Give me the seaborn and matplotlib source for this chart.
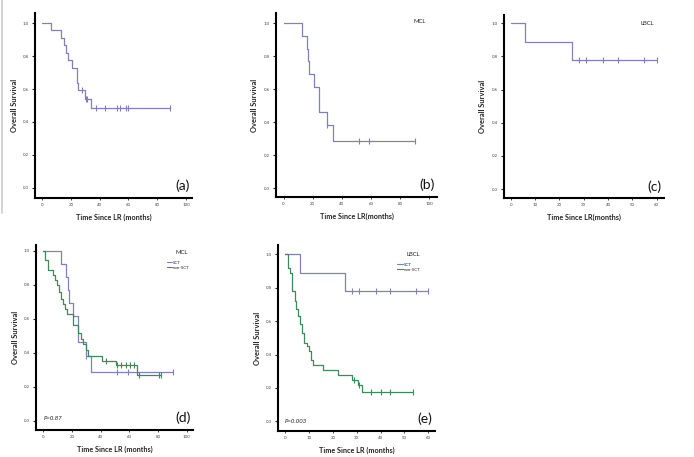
import numpy as np
import matplotlib
matplotlib.use('Agg')
import matplotlib.pyplot as plt
from matplotlib.lines import Line2D
import seaborn as sns

# (a) all patients
all_t = [0, 6, 13, 15.5, 16.5, 18, 21, 24, 25, 29.5, 34]
all_s = [1.0, 0.955, 0.909, 0.864, 0.818, 0.773, 0.727, 0.636, 0.591, 0.542, 0.482]
all_end = 89
all_cens = [27.5, 30.2, 31, 37.5, 44, 52, 54.5, 58.5, 59.5, 89]

# MCL, SCT  (b) and (d)
mcl_sct_t = [0, 12.6, 15.8, 16.9, 17.6, 21, 24, 29.5, 33.6]
mcl_sct_s = [1.0, 0.923, 0.846, 0.769, 0.692, 0.615, 0.462, 0.385, 0.288]
mcl_sct_end = 90.4
mcl_sct_cens = [30, 51.6, 58.9, 90.4]

# LBCL, SCT  (c) and (e)
lbcl_sct_t = [0, 6, 25.1]
lbcl_sct_s = [1.0, 0.889, 0.778]
lbcl_sct_end = 60
lbcl_sct_cens = [28.1, 31.1, 38.1, 44, 54.9, 60]

# MCL, non-SCT  (d)
mcl_non_t = [0, 1.5, 3, 7, 8.2, 9.3, 10.7, 12.1, 13.5, 15.1, 16.8, 20.5, 24.5,
             26.5, 28, 29.5, 31, 41, 51, 65]
mcl_non_s = [1.0, 0.945, 0.89, 0.86, 0.83, 0.80, 0.76, 0.72, 0.69, 0.66, 0.63,
             0.565, 0.52, 0.48, 0.45, 0.415, 0.385, 0.355, 0.33, 0.27]
mcl_non_end = 82
mcl_non_cens = [44, 51.5, 54.5, 57.5, 60.5, 63.5, 67, 80.5, 82]

# LBCL, non-SCT  (e)
lbcl_non_t = [0, 1, 2, 3, 3.9, 4.7, 5.5, 6.2, 7, 8, 9, 9.8, 10.8, 11.8, 16, 22,
              28, 30.3, 32]
lbcl_non_s = [1.0, 0.92, 0.89, 0.78, 0.72, 0.67, 0.63, 0.58, 0.53, 0.47, 0.45,
              0.42, 0.37, 0.335, 0.31, 0.28, 0.25, 0.22, 0.175]
lbcl_non_end = 53.5
lbcl_non_cens = [29, 31, 36, 40, 44, 53.5]

PURPLE = '#8080bb'
GREEN = '#3d8a58'
FONT = 'Lato'

sns.set_style('ticks')
plt.rcParams['font.family'] = [FONT, 'DejaVu Sans']


def km(ax, t, s, end, cens, color):
    x = list(t) + [end]
    y = list(s) + [s[-1]]
    sns.lineplot(x=x, y=y, ax=ax, color=color, lw=0.9, drawstyle='steps-post',
                 estimator=None, sort=False, errorbar=None)
    idx = np.searchsorted(t, cens, side='right') - 1
    cy = np.array(s)[idx]
    sns.scatterplot(x=cens, y=cy, ax=ax, marker='|', s=22, color=color,
                    linewidth=0.8, zorder=3)


def style(ax, xlim, ylim, xticks, xlabel, letter):
    ax.set_xlim(*xlim)
    ax.set_ylim(*ylim)
    ax.set_xticks(xticks)
    ax.set_yticks([0, 0.2, 0.4, 0.6, 0.8, 1.0])
    ax.set_xticklabels([str(v) for v in xticks])
    ax.set_yticklabels(['0.0', '0.2', '0.4', '0.6', '0.8', '1.0'])
    for side in ['top', 'right']:
        ax.spines[side].set_visible(False)
    for side in ['left', 'bottom']:
        ax.spines[side].set_linewidth(1.5)
        ax.spines[side].set_color('black')
    ax.tick_params(axis='y', length=2.5, width=0.8, pad=2, labelsize=3.2, labelcolor='#444444')
    ax.tick_params(axis='x', length=1.5, width=0.6, pad=2, labelsize=3.2, labelcolor='#444444')
    ax.set_ylabel('Overall Survival', fontsize=5.4, fontweight='bold', color='#222222')
    ax.set_xlabel(xlabel, fontsize=5.2, fontweight='bold', color='#222222')
    ax.yaxis.set_label_coords(-0.11, 0.5)
    ax.xaxis.set_label_coords(0.5, -0.085)
    ax.text(0.985, 0.03, letter, transform=ax.transAxes, ha='right', va='bottom',
            fontsize=10, color='#111111')


W, H = 694, 457
fig = plt.figure(figsize=(W / 100, H / 100), dpi=100)


def axes_px(left, right, top, bottom):
    return fig.add_axes([left / W, 1 - bottom / H, (right - left) / W, (bottom - top) / H])


ax_a = axes_px(35, 192, 13, 198)
ax_b = axes_px(276, 437, 13, 197)
ax_c = axes_px(504, 664, 15, 198)
ax_d = axes_px(36, 193, 245, 430)
ax_e = axes_px(278, 435, 245, 431)

# (a)
km(ax_a, all_t, all_s, all_end, all_cens, PURPLE)
style(ax_a, (-4.9, 104.2), (-0.061, 1.061), [0, 20, 40, 60, 80, 100],
      'Time Since LR (months)', '(a)')

# (b)
km(ax_b, mcl_sct_t, mcl_sct_s, mcl_sct_end, mcl_sct_cens, PURPLE)
style(ax_b, (-5.2, 105.3), (-0.053, 1.062), [0, 20, 40, 60, 80, 100],
      'Time Since LR(months)', '(b)')
ax_b.text(0.93, 0.955, 'MCL', transform=ax_b.transAxes, ha='right', va='center',
          fontsize=4.3, color='#222222')

# (c)
km(ax_c, lbcl_sct_t, lbcl_sct_s, lbcl_sct_end, lbcl_sct_cens, PURPLE)
style(ax_c, (-2.75, 63), (-0.054, 1.05), [0, 10, 20, 30, 40, 50, 60],
      'Time Since LR(months)', '(c)')
ax_c.text(0.94, 0.955, 'LBCL', transform=ax_c.transAxes, ha='right', va='center',
          fontsize=4.3, color='#222222')

# (d)
km(ax_d, mcl_sct_t, mcl_sct_s, mcl_sct_end, mcl_sct_cens, PURPLE)
km(ax_d, mcl_non_t, mcl_non_s, mcl_non_end, mcl_non_cens, GREEN)
style(ax_d, (-5.1, 104.4), (-0.053, 1.035), [0, 20, 40, 60, 80, 100],
      'Time Since LR (months)', '(d)')
ax_d.text(0.968, 0.957, 'MCL', transform=ax_d.transAxes, ha='right', va='center',
          fontsize=4.3, color='#222222')
ax_d.text(0.05, 0.06, 'P=0.87', transform=ax_d.transAxes, ha='left', va='center',
          fontsize=4.3, style='italic', color='#222222')

# (e)
km(ax_e, lbcl_sct_t, lbcl_sct_s, lbcl_sct_end, lbcl_sct_cens, PURPLE)
km(ax_e, lbcl_non_t, lbcl_non_s, lbcl_non_end, lbcl_non_cens, GREEN)
style(ax_e, (-3.06, 62.8), (-0.058, 1.056), [0, 10, 20, 30, 40, 50, 60],
      'Time Since LR (months)', '(e)')
ax_e.text(0.905, 0.95, 'LBCL', transform=ax_e.transAxes, ha='right', va='center',
          fontsize=4.3, color='#222222')
ax_e.text(0.04, 0.05, 'P=0.003', transform=ax_e.transAxes, ha='left', va='center',
          fontsize=4.3, style='italic', color='#222222')

handles = [Line2D([], [], color=PURPLE, lw=0.8), Line2D([], [], color=GREEN, lw=0.8)]
for ax, pos in [(ax_d, (0.834, 0.915)), (ax_e, (0.76, 0.905))]:
    ax.legend(handles, ['SCT', 'non-SCT'], loc='upper left', bbox_to_anchor=pos,
              frameon=False, fontsize=3.2, handlelength=1.2, handletextpad=0.2,
              labelspacing=0.15, borderpad=0, borderaxespad=0)

# thin grey frame line at the left edge of the screenshot
fig.add_artist(Line2D([2 / W, 2 / W], [1, 1 - 213 / H], color='#cccccc', lw=1.2,
                      transform=fig.transFigure))

fig.savefig('out.png', dpi=100, facecolor='white')
